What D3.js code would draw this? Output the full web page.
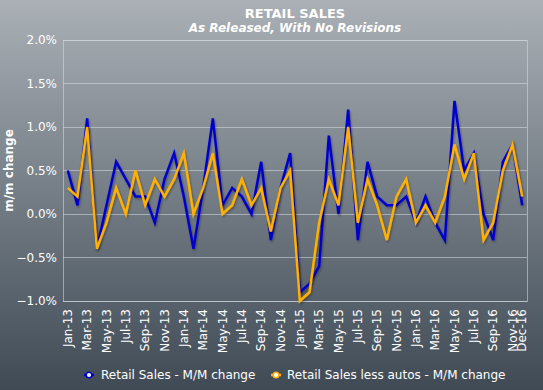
<!DOCTYPE html>
<html><head><meta charset="utf-8">
<script src="https://cdn.jsdelivr.net/npm/d3@7"></script>
<style>body{margin:0;padding:0;overflow:hidden}svg{display:block}</style>
</head><body>
<script>
const months = ["Jan-13","Feb-13","Mar-13","Apr-13","May-13","Jun-13","Jul-13","Aug-13","Sep-13","Oct-13","Nov-13","Dec-13",
"Jan-14","Feb-14","Mar-14","Apr-14","May-14","Jun-14","Jul-14","Aug-14","Sep-14","Oct-14","Nov-14","Dec-14",
"Jan-15","Feb-15","Mar-15","Apr-15","May-15","Jun-15","Jul-15","Aug-15","Sep-15","Oct-15","Nov-15","Dec-15",
"Jan-16","Feb-16","Mar-16","Apr-16","May-16","Jun-16","Jul-16","Aug-16","Sep-16","Oct-16","Nov-16","Dec-16"];
const retailSales = [0.5,0.1,1.1,-0.4,0.1,0.6,0.4,0.2,0.2,-0.1,0.4,0.7,
0.2,-0.4,0.3,1.1,0.1,0.3,0.2,0.0,0.6,-0.3,0.3,0.7,
-0.9,-0.8,-0.6,0.9,0.0,1.2,-0.3,0.6,0.2,0.1,0.1,0.2,
-0.1,0.2,-0.1,-0.3,1.3,0.5,0.7,0.0,-0.3,0.6,0.8,0.1];
const lessAutos = [0.3,0.2,1.0,-0.4,-0.1,0.3,0.0,0.5,0.1,0.4,0.2,0.4,
0.7,0.0,0.3,0.7,0.0,0.1,0.4,0.1,0.3,-0.2,0.3,0.5,
-1.0,-0.9,-0.1,0.4,0.1,1.0,-0.1,0.4,0.1,-0.3,0.2,0.4,
-0.1,0.1,-0.1,0.2,0.8,0.4,0.7,-0.3,-0.1,0.5,0.8,0.2];
const xTickLabels = months.filter((m,i)=> i%2===0 || i===months.length-1);
const yTicks = [-1.0,-0.5,0.0,0.5,1.0,1.5,2.0];
const seriesNames = ["Retail Sales - M/M change","Retail Sales less autos - M/M change"];
const seriesColors = ["#0000CC","#FFB000"];

const W=543,H=390;
const m={left:63,right:16,top:40,bottom:89};
const svg=d3.select("body").append("svg").attr("width",W).attr("height",H);
const defs=svg.append("defs");
const g=defs.append("linearGradient").attr("id","bg").attr("x1",0).attr("y1",0).attr("x2",0).attr("y2",1);
g.append("stop").attr("offset","0%").attr("stop-color","#AAB0B6");
g.append("stop").attr("offset","100%").attr("stop-color","#3F4A55");
const f=defs.append("filter").attr("id","sh").attr("x","-10%").attr("y","-10%").attr("width","120%").attr("height","120%");
f.append("feDropShadow").attr("dx",1).attr("dy",1.5).attr("stdDeviation",1).attr("flood-color","#000").attr("flood-opacity",0.35);
svg.append("rect").attr("width",W).attr("height",H).attr("fill","url(#bg)");

const x=d3.scaleBand().domain(months).range([m.left,W-m.right]);
const y=d3.scaleLinear().domain([-1,2]).range([H-m.bottom,m.top]);
const font="DejaVu Sans, Verdana, sans-serif";
const grid="rgba(215,220,225,0.55)";

// gridlines
svg.append("g").selectAll("line").data(yTicks).join("line")
 .attr("x1",m.left).attr("x2",W-m.right).attr("y1",d=>y(d)).attr("y2",d=>y(d))
 .attr("stroke",grid).attr("stroke-width",1).attr("shape-rendering","crispEdges");
svg.append("rect").attr("x",m.left).attr("y",m.top).attr("width",W-m.right-m.left).attr("height",H-m.bottom-m.top)
 .attr("fill","none").attr("stroke",grid).attr("shape-rendering","crispEdges");

// y axis
const ya=svg.append("g").attr("transform",`translate(${m.left},0)`)
 .call(d3.axisLeft(y).tickValues(yTicks).tickFormat(d=>d3.format(".1f")(d)+"%").tickSize(0).tickPadding(6));
ya.select(".domain").remove();
ya.selectAll("text").attr("fill","#fff").attr("font-family",font).attr("font-size",12);

// x axis
const xa=svg.append("g").attr("transform",`translate(0,${H-m.bottom})`)
 .call(d3.axisBottom(x).tickValues(xTickLabels).tickSize(0).tickPadding(0));
xa.select(".domain").remove();
xa.selectAll("text").attr("fill","#fff").attr("font-family",font).attr("font-size",12)
 .attr("transform","rotate(-90)").attr("text-anchor","end").attr("x",-8).attr("y",0).attr("dy","0.35em");

// lines
const data=[retailSales,lessAutos];
const line=d3.line().x((d,i)=>x(months[i])+x.bandwidth()/2).y(d=>y(d));
data.forEach((s,k)=>{
 svg.append("path").datum(s).attr("d",line).attr("fill","none").attr("stroke",seriesColors[k])
  .attr("stroke-width",2.5).attr("stroke-linejoin","miter").attr("filter","url(#sh)");
});

// titles
svg.append("text").attr("x",(m.left+W-m.right)/2).attr("y",18).attr("text-anchor","middle")
 .attr("fill","#fff").attr("font-family",font).attr("font-weight","bold").attr("font-size",13).text("RETAIL SALES");
svg.append("text").attr("x",(m.left+W-m.right)/2).attr("y",32).attr("text-anchor","middle")
 .attr("fill","#fff").attr("font-family",font).attr("font-weight","bold").attr("font-style","italic").attr("font-size",12).text("As Released, With No Revisions");
svg.append("text").attr("transform",`translate(13,${(m.top+H-m.bottom)/2}) rotate(-90)`).attr("text-anchor","middle")
 .attr("fill","#fff").attr("font-family",font).attr("font-weight","bold").attr("font-size",12).text("m/m change");

// legend
const lg=[{x:89,tx:101},{x:276,tx:287}];
lg.forEach((p,k)=>{
 svg.append("line").attr("x1",p.x-5).attr("x2",p.x+5).attr("y1",375).attr("y2",375).attr("stroke",seriesColors[k]).attr("stroke-width",2.5);
 svg.append("circle").attr("cx",p.x).attr("cy",375).attr("r",2.8).attr("fill","#fff").attr("stroke",seriesColors[k]).attr("stroke-width",1.5);
 svg.append("text").attr("x",p.tx).attr("y",379).attr("fill","#fff").attr("font-family",font).attr("font-size",12).text(seriesNames[k]);
});
</script>
</body></html>
